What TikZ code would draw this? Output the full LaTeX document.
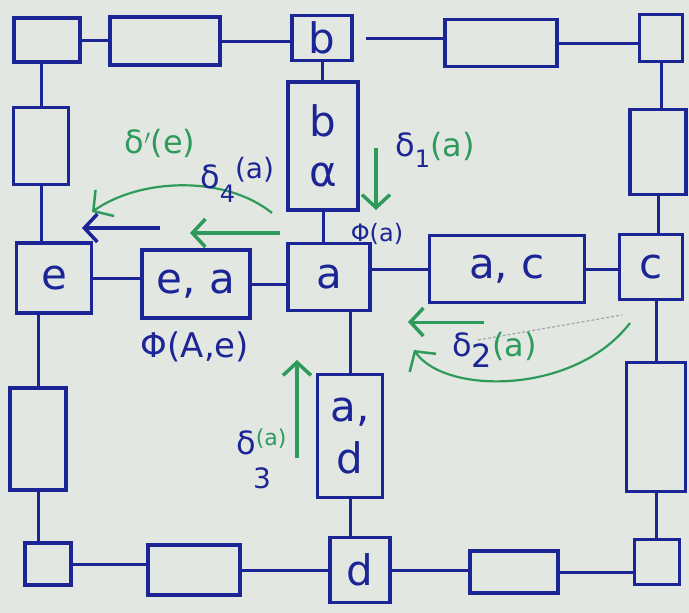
\documentclass[tikz,border=0pt]{standalone}
\usepackage{fontspec}
\setmainfont{DejaVu Sans}
\usetikzlibrary{arrows.meta}
\definecolor{pen}{HTML}{1C2596}
\definecolor{gpen}{HTML}{2E9A5C}
\definecolor{paper}{HTML}{E3E7E1}
\begin{document}
\begin{tikzpicture}[x=1pt,y=-1pt,
  box/.style={draw=pen,line width=3.2pt,inner sep=0pt,text=pen,
    font=\fontsize{42}{48}\selectfont,align=center},
  wire/.style={draw=pen,line width=3pt},
  garrow/.style={draw=gpen,line width=4pt,-{Straight Barb[length=13pt,width=28pt,line width=3.5pt]}},
  gcurve/.style={draw=gpen,line width=2.2pt,-{Straight Barb[length=14pt,width=32pt,line width=2.5pt]}},
  barrow/.style={draw=pen,line width=4pt,-{Straight Barb[length=13pt,width=28pt,line width=3.5pt]}},
  lbl/.style={inner sep=0pt,text=pen,font=\fontsize{32}{32}\selectfont},
  glbl/.style={inner sep=0pt,text=gpen,font=\fontsize{32}{32}\selectfont}]
\fill[paper] (0,0) rectangle (689,613);
\useasboundingbox (0,0) rectangle (689,613);
% outer ring
\node[box,minimum width=66pt,minimum height=44pt] (tl) at (47,40) {};
\node[box,minimum width=110pt,minimum height=48pt] (t2) at (165,41) {};
\node[box,minimum width=60pt,minimum height=45pt] (b) at (322,38) {b};
\node[box,minimum width=112pt,minimum height=47pt] (t4) at (501,43) {};
\node[box,minimum width=43pt,minimum height=47pt] (tr) at (661,38) {};
\node[box,minimum width=55pt,minimum height=77pt] (l2) at (41,146) {};
\node[box,minimum width=75pt,minimum height=70pt] (e) at (54,278) {e};
\node[box,minimum width=56pt,minimum height=102pt] (l3) at (38,439) {};
\node[box,minimum width=46pt,minimum height=42pt] (bl) at (48,564) {};
\node[box,minimum width=92pt,minimum height=50pt] (b2) at (194,570) {};
\node[box,minimum width=60pt,minimum height=65pt] (d) at (360,570) {d};
\node[box,minimum width=88pt,minimum height=42pt] (b4) at (514,572) {};
\node[box,minimum width=45pt,minimum height=45pt] (br) at (657,562) {};
\node[box,minimum width=56pt,minimum height=85pt] (r2) at (658,152) {};
\node[box,minimum width=63pt,minimum height=65pt] (c) at (651,267) {c};
\node[box,minimum width=59pt,minimum height=129pt] (r3) at (656,427) {};
% inner
\node[box,minimum width=70pt,minimum height=128pt] (ba) at (323,146) {b\\[2pt]α};
\node[box,minimum width=108pt,minimum height=68pt] (ea) at (196,284) {e, a};
\node[box,minimum width=82pt,minimum height=67pt] (a) at (329,277) {a};
\node[box,minimum width=155pt,minimum height=67pt] (ac) at (507,269) {a, c};
\node[box,minimum width=65pt,minimum height=123pt] (ad) at (350,436) {a,\\[4pt]d};
% wires (horizontal)
\draw[wire] (tl) -- (tl -| t2.west);
\draw[wire] (t2) -- (t2 -| b.west);
\draw[wire,shorten <=12pt] (b) -- (b -| t4.west);
\draw[wire] (t4) -- (t4 -| tr.west);
\draw[wire] (bl) -- (bl -| b2.west);
\draw[wire] (b2) -- (b2 -| d.west);
\draw[wire] (d) -- (d -| b4.west);
\draw[wire] (b4) -- (b4 -| br.west);
\draw[wire] (e) -- (e -| ea.west);
\draw[wire] (ea) -- (ea -| a.west);
\draw[wire] (ac) -- (ac -| a.east);
\draw[wire] (ac) -- (ac -| c.west);
% wires (vertical)
\draw[wire] (l2) -- (l2 |- tl.south);
\draw[wire] (l2) -- (l2 |- e.north);
\draw[wire] (l3) -- (l3 |- e.south);
\draw[wire] (l3) -- (l3 |- bl.north);
\draw[wire] (tr) -- (tr |- r2.north);
\draw[wire] (r2) -- (r2 |- c.north);
\draw[wire] (r3) -- (r3 |- c.south);
\draw[wire] (r3) -- (r3 |- br.north);
\draw[wire] (b) -- (b |- ba.north);
\draw[wire] (ba) -- (ba |- a.north);
\draw[wire] (ad) -- (ad |- a.south);
\draw[wire] (ad) -- (ad |- d.north);
% arrows
\coordinate (g1s) at (272,213);
\coordinate (g1e) at (92,212);
\draw[gcurve] (g1s) .. controls (225,175) and (140,178) .. (g1e);
\coordinate (b1s) at (160,228);
\coordinate (b1e) at (82,228);
\draw[barrow] (b1s) -- (b1e);
\coordinate (g2s) at (280,233);
\coordinate (g2e) at (190,233);
\draw[garrow] (g2s) -- (g2e);
\coordinate (g3s) at (376,148);
\coordinate (g3e) at (376,210);
\draw[garrow] (g3s) -- (g3e);
\coordinate (g4s) at (297,458);
\coordinate (g4e) at (297,360);
\draw[garrow] (g4s) -- (g4e);
\coordinate (g5s) at (484,322);
\coordinate (g5e) at (408,322);
\draw[garrow,line width=3pt] (g5s) -- (g5e);
\coordinate (g6s) at (630,323);
\coordinate (g6e) at (414,350);
\draw[gcurve] (g6s) .. controls (575,395) and (445,395) .. (g6e);
\coordinate (p1) at (478,340);
\coordinate (p2) at (622,315);
\draw[gray!70,line width=1.2pt,densely dashed] (p1) -- (p2);
% labels
\node[glbl] (lde) at (160,143) {δ$'$(e)};
\node[lbl,anchor=west] (ld4) at (200,180) {δ\raisebox{-0.45em}{\fontsize{24}{24}\selectfont 4}\raisebox{0.3em}{\fontsize{28}{28}\selectfont(a)}};
\node[lbl,anchor=west] (ld1) at (395,150) {δ\raisebox{-0.35em}{\fontsize{24}{24}\selectfont 1}\textcolor{gpen}{(a)}};
\node[lbl,font=\fontsize{24}{24}\selectfont] (lpa) at (377,234) {Φ(a)};
\node[lbl,font=\fontsize{34}{34}\selectfont] (lpae) at (195,347) {Φ(A,e)};
\node[lbl,anchor=west] (ld2) at (452,350) {δ\raisebox{-0.35em}{2}\textcolor{gpen}{(a)}};
\node[lbl,anchor=west,align=left] (ld3) at (236,442) {δ\raisebox{0.3em}{\textcolor{gpen}{\fontsize{22}{22}\selectfont(a)}}};
\node[lbl,font=\fontsize{28}{28}\selectfont] (ld3s) at (262,478) {3};
\end{tikzpicture}
\end{document}
